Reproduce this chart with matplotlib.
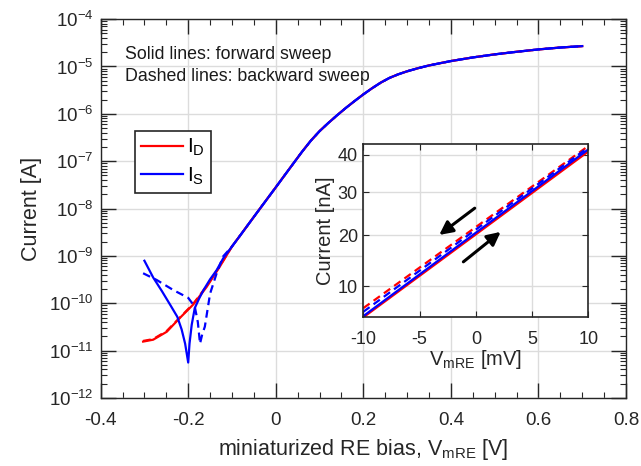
import numpy as np
import matplotlib
matplotlib.use("Agg")
import matplotlib.pyplot as plt
from matplotlib.ticker import LogLocator, MultipleLocator, NullFormatter

plt.rcParams['font.family'] = ['Liberation Sans', 'DejaVu Sans']
plt.rcParams['mathtext.default'] = 'regular'

# main plot data (V, A); the upper branch is shared by all four curves
v_upper = [-0.10, -0.08, -0.06, -0.04, -0.02, 0.00, 0.02, 0.04, 0.06, 0.08,
           0.10, 0.12, 0.14, 0.16, 0.18, 0.20, 0.22, 0.24, 0.26, 0.28,
           0.30, 0.325, 0.35, 0.375, 0.40, 0.45, 0.50, 0.55, 0.60, 0.65, 0.70]
i_upper = [1.58e-9, 2.8e-9, 5.0e-9, 8.9e-9, 1.58e-8, 2.8e-8, 5.0e-8, 8.9e-8, 1.58e-7, 2.7e-7,
           4.3e-7, 6.4e-7, 9.3e-7, 1.33e-6, 1.86e-6, 2.57e-6, 3.47e-6, 4.57e-6, 5.75e-6, 6.84e-6,
           7.9e-6, 9.2e-6, 1.05e-5, 1.17e-5, 1.30e-5, 1.55e-5, 1.80e-5, 2.04e-5, 2.29e-5, 2.51e-5, 2.69e-5]

v_is_fwd = [-0.30, -0.28, -0.26, -0.24, -0.225, -0.215, -0.207, -0.200, -0.197, -0.192,
            -0.185, -0.175, -0.165, -0.15, -0.135, -0.12] + v_upper
is_fwd = [7.9e-10, 3.5e-10, 1.8e-10, 8.9e-11, 5.2e-11, 2.8e-11, 1.4e-11, 5.6e-12, 1.4e-11, 3.5e-11,
          7.9e-11, 1.26e-10, 1.9e-10, 3.2e-10, 5.0e-10, 8.9e-10] + i_upper

v_is_bwd = [-0.303, -0.272, -0.234, -0.20, -0.185, -0.178, -0.173, -0.168, -0.162, -0.15,
            -0.135, -0.12] + v_upper
is_bwd = [4.3e-10, 3.1e-10, 1.9e-10, 1.3e-10, 8.5e-11, 4.0e-11, 1.4e-11, 2.2e-11, 3.2e-11, 1.6e-10,
          4.3e-10, 9.8e-10] + i_upper

v_id = [-0.303, -0.28, -0.249, -0.219, -0.189, -0.158, -0.128] + v_upper
id_fwd = [1.55e-11, 1.7e-11, 2.5e-11, 4.9e-11, 9.3e-11, 2.2e-10, 5.9e-10] + i_upper
id_bwd = [1.6e-11, 1.75e-11, 2.6e-11, 5.0e-11, 9.6e-11, 2.3e-10, 6.1e-10] + i_upper

# inset data (mV, nA)
v_inset = [-10, 10]
id_in_fwd = [4.7, 41.0]
is_in_fwd = [4.9, 41.6]
id_in_bwd = [6.2, 42.6]
is_in_bwd = [5.6, 42.2]

RED = '#ff0000'
BLUE = '#0000ff'
DARK = '#262626'
DASH = (0, (3.5, 2.2))

fig = plt.figure(figsize=(6.41, 4.66), dpi=100)
ax = fig.add_axes([0.157, 0.146, 0.8196, 0.813])

ax.plot(v_id, id_bwd, color=RED, lw=1.6, ls=DASH)
l_d, = ax.plot(v_id, id_fwd, color=RED, lw=1.6)
ax.plot(v_is_bwd, is_bwd, color=BLUE, lw=1.6, ls=DASH)
l_s, = ax.plot(v_is_fwd, is_fwd, color=BLUE, lw=1.6)

ax.set_yscale('log')
ax.set_xlim(-0.4, 0.8)
ax.set_ylim(1e-12, 1e-4)
ax.set_xticks([-0.4, -0.2, 0, 0.2, 0.4, 0.6, 0.8])
ax.set_xticklabels(['-0.4', '-0.2', '0', '0.2', '0.4', '0.6', '0.8'])
ax.xaxis.set_minor_locator(MultipleLocator(0.05))
ax.yaxis.set_major_locator(LogLocator(base=10, numticks=20))
ax.yaxis.set_minor_locator(LogLocator(base=10, subs=np.arange(2, 10), numticks=20))
ax.yaxis.set_minor_formatter(NullFormatter())
ax.tick_params(which='both', direction='in', top=True, right=True, labelsize=13.5,
               color=DARK, labelcolor=DARK)
ax.tick_params(which='major', length=11, width=1)
ax.tick_params(which='minor', length=4.5, width=0.8)
ax.tick_params(axis='x', which='major', pad=10)
ax.tick_params(axis='y', which='major', pad=5)
ax.grid(True, which='major', color='#dcdcdc', lw=1)
ax.set_axisbelow(True)
for s in ax.spines.values():
    s.set_color(DARK)
    s.set_linewidth(1)

ax.set_xlabel('miniaturized RE bias, V$_{mRE}$ [V]', fontsize=15.5, color=DARK, labelpad=6)
ax.set_ylabel('Current [A]', fontsize=15.5, color=DARK, labelpad=5)

ax.text(0.046, 0.896, 'Solid lines: forward sweep', transform=ax.transAxes,
        fontsize=12.8, color='#1a1a1a', va='baseline')
ax.text(0.046, 0.837, 'Dashed lines: backward sweep', transform=ax.transAxes,
        fontsize=12.8, color='#1a1a1a', va='baseline')

leg = ax.legend([l_d, l_s], ['I$_D$', 'I$_S$'], loc='upper left', bbox_to_anchor=(0.0653, 0.705),
                borderaxespad=0, fancybox=False, edgecolor=DARK, fontsize=15,
                handlelength=2.0, labelspacing=0.35, borderpad=0.3, handletextpad=0.2,
                framealpha=1)
leg.get_frame().set_linewidth(1.2)

# inset
ins = fig.add_axes([0.5668, 0.319, 0.351, 0.372])
ins.plot(v_inset, id_in_fwd, color=RED, lw=1.6)
ins.plot(v_inset, is_in_fwd, color=BLUE, lw=1.6)
ins.plot(v_inset, id_in_bwd, color=RED, lw=1.6, ls=DASH)
ins.plot(v_inset, is_in_bwd, color=BLUE, lw=1.6, ls=DASH)
ins.set_yscale('function', functions=(lambda y: np.log10(y + 40), lambda y: 10 ** y - 40))
ins.set_xlim(-10, 10)
ins.set_ylim(4.7, 43.2)
ins.set_xticks([-10, -5, 0, 5, 10])
ins.set_yticks([10, 20, 30, 40])
ins.set_yticklabels(['10', '20', '30', '40'])
ins.set_xticklabels(['-10', '-5', '0', '5', '10'])
ins.tick_params(direction='in', top=True, right=True, labelsize=13, length=4.5,
                color=DARK, labelcolor=DARK)
ins.tick_params(axis='x', pad=10)
ins.tick_params(axis='y', pad=4)
ins.grid(True, color='#dcdcdc', lw=1)
ins.set_axisbelow(True)
for s in ins.spines.values():
    s.set_color(DARK)
    s.set_linewidth(1.2)
ins.set_xlabel('V$_{mRE}$ [mV]', fontsize=14.5, color=DARK, labelpad=0)
ins.set_ylabel('Current [nA]', fontsize=14.5, color=DARK, labelpad=2)

ins.annotate('', xy=(-3.45, 19.7), xytext=(0.1, 26.5),
             arrowprops=dict(arrowstyle='-|>', color='black', lw=2.2, mutation_scale=20))
ins.annotate('', xy=(2.4, 21.1), xytext=(-1.3, 14.2),
             arrowprops=dict(arrowstyle='-|>', color='black', lw=2.2, mutation_scale=20))

fig.savefig('out.png', dpi=100)
